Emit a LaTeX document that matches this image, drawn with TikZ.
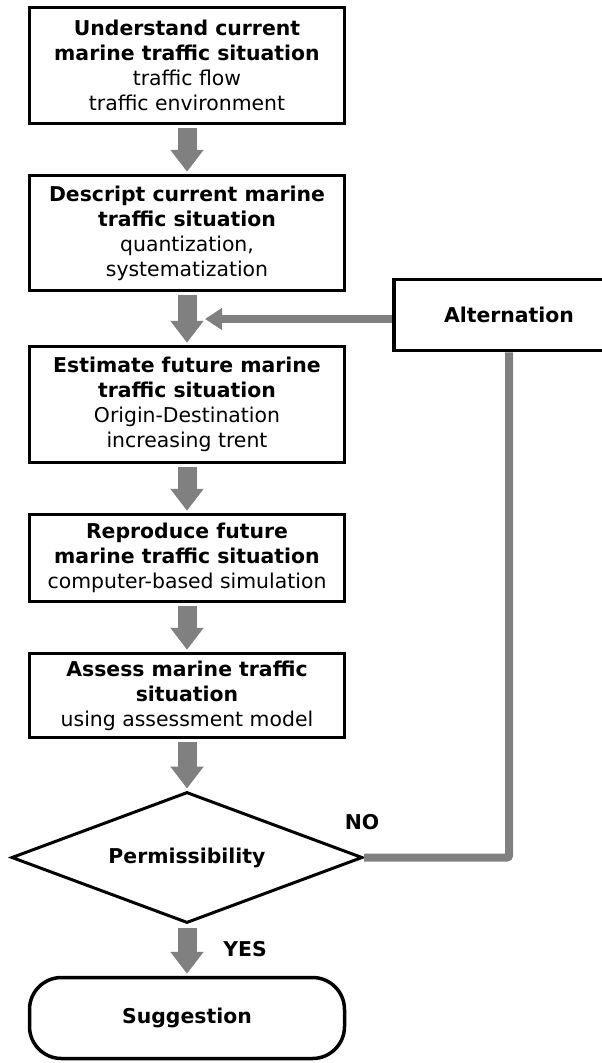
\documentclass[tikz,border=0pt]{standalone}
\usepackage{fontspec}
\setmainfont{DejaVu Sans}
\usepackage{tikz}
\usetikzlibrary{arrows.meta,shapes.geometric}
\definecolor{flowgray}{RGB}{128,128,128}

\begin{document}
\begin{tikzpicture}[x=1pt,y=-1pt,
		every node/.style={font=\fontsize{20.4}{25}\selectfont},
		box/.style={draw,line width=3.5pt,minimum width=315pt,align=center,inner sep=0pt},
		dec/.style={draw,diamond,aspect=2.65,line width=3pt,minimum width=351pt,minimum height=131pt,inner sep=0pt,font=\fontsize{20.4}{25}\selectfont\bfseries},
		lbl/.style={font=\fontsize{20.4}{25}\selectfont\bfseries},
		flow/.style={draw=flowgray,line width=19pt,-{Triangle[width=32pt,length=22pt]},shorten <=3pt,shorten >=2pt},
		back/.style={draw=flowgray,line width=8pt,-{Triangle[width=21pt,length=17pt]}},
		loop/.style={draw=flowgray,line width=8pt,rounded corners=2pt}]
		\useasboundingbox (0,0) rectangle (602,1063);
		\node[box,minimum height=116pt] (s1) at (187,65.5){\textbf{Understand current}\\\textbf{marine traffic situation}\\traffic flow\\traffic environment};
		\node[box,minimum height=115pt] (s2) at (187,233){\textbf{Descript current marine}\\\textbf{traffic situation}\\quantization,\\systematization};
		\node[box,minimum height=116pt] (s3) at (187,404.5){\textbf{Estimate future marine}\\\textbf{traffic situation}\\Origin-Destination\\increasing trent};
		\node[box,minimum height=87pt] (s4) at (187,558){\textbf{Reproduce future}\\\textbf{marine traffic situation}\\computer-based simulation};
		\node[box,minimum height=84pt] (s5) at (187,695.5){\textbf{Assess marine traffic}\\\textbf{situation}\\using assessment model};
		\node[dec] (perm) at (187,857.5){Permissibility};
		\node[box,minimum height=81pt,rounded corners=32pt] (sugg) at (187,1018){\textbf{Suggestion}};
		\node[box,minimum width=230pt,minimum height=71pt] (alt) at (509,315){\textbf{Alternation}};
		\node[lbl] (no) at (362,822){NO};
		\node[lbl] (yes) at (245,949){YES};
		\coordinate (join) at (205,319);
		\draw[flow] (s1) -- (s2);
		\draw[flow] (s2) -- (s3);
		\draw[flow] (s3) -- (s4);
		\draw[flow] (s4) -- (s5);
		\draw[flow] (s5) -- (perm);
		\draw[flow] (perm) -- (sugg);
		\draw[back] (alt.west |- join) -- (join);
		\draw[loop] (perm.east) -| (alt.south);
	\end{tikzpicture}
\end{document}
